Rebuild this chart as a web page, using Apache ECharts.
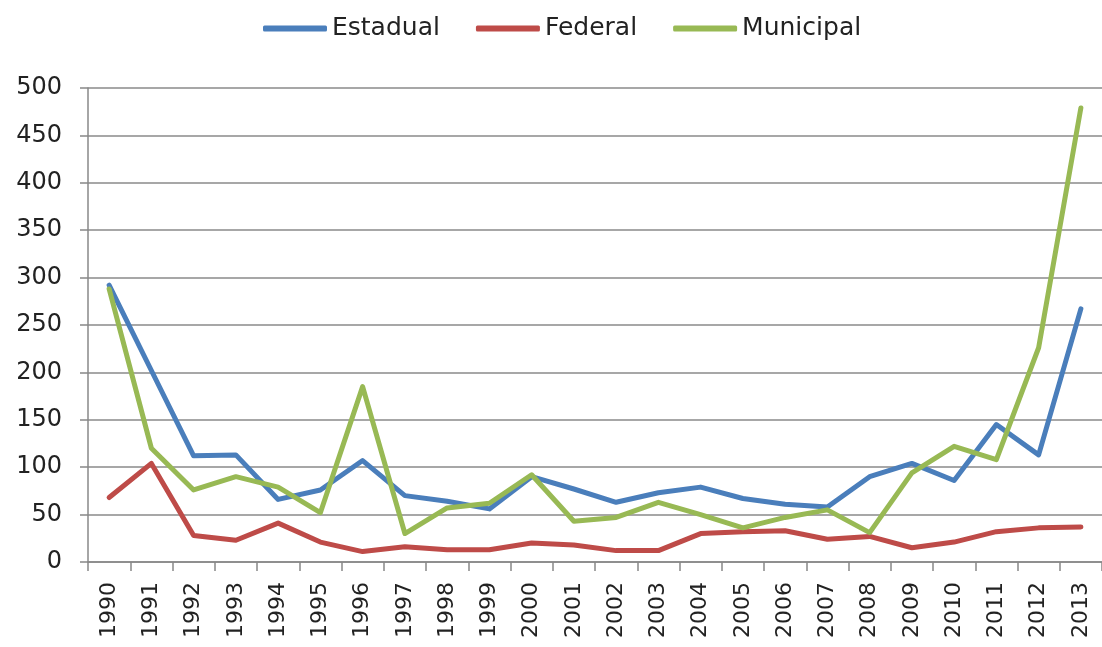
<!DOCTYPE html>
<html>
<head>
<meta charset="utf-8">
<title>Estadual / Federal / Municipal</title>
<script src="https://cdn.jsdelivr.net/npm/echarts@6/dist/echarts.min.js"></script>
<style>
	html, body { margin: 0; padding: 0; background: #fff; }
	#chart { width: 1102px; height: 647px; }
</style>
</head>
<body>
<div id="chart"></div>
<script>
	// anos do eixo x
	var anos = ['1990', '1991', '1992', '1993', '1994', '1995', '1996', '1997', '1998', '1999', '2000', '2001',
		'2002', '2003', '2004', '2005', '2006', '2007', '2008', '2009', '2010', '2011', '2012', '2013'];
	var estadual = [292, 202, 112, 113, 66, 76, 107, 70, 64, 56, 90, 77, 63, 73, 79, 67, 61, 58, 90, 104, 86, 145, 113, 267];
	var federal = [68, 104, 28, 23, 41, 21, 11, 16, 13, 13, 20, 18, 12, 12, 30, 32, 33, 24, 27, 15, 21, 32, 36, 37];
	var municipal = [288, 120, 76, 90, 79, 52, 185, 30, 57, 62, 92, 43, 47, 63, 50, 36, 47, 55, 31, 94, 122, 108, 226, 479];
	var nomes = ['Estadual', 'Federal', 'Municipal'];
	var cores = ['#4a7ebb', '#be4b48', '#98b954'];

	var myChart = echarts.init(document.getElementById('chart'));

	function serie(nome, dados, cor) {
		return {
			name: nome,
			type: 'line',
			data: dados,
			symbol: 'none',
			lineStyle: { width: 5, color: cor, cap: 'round', join: 'round' },
			itemStyle: { color: cor }
		};
	}

	var option = {
		backgroundColor: '#fff',
		animation: false,
		legend: {
			data: nomes,
			left: 258,
			top: 11,
			icon: 'roundRect',
			itemWidth: 64,
			itemHeight: 6,
			itemGap: 36,
			textStyle: { fontFamily: 'DejaVu Sans', fontSize: 25, color: '#222' }
		},
		grid: {
			left: 88,
			right: -6,
			top: 88,
			bottom: 85,
			containLabel: false
		},
		xAxis: {
			type: 'category',
			boundaryGap: true,
			data: anos,
			axisLine: { lineStyle: { color: '#888', width: 1.5 } },
			axisTick: { show: true, length: 9, lineStyle: { color: '#888', width: 1.5 } },
			axisLabel: {
				interval: 0,
				rotate: 90,
				margin: 20,
				fontFamily: 'DejaVu Sans',
				fontSize: 22,
				color: '#222'
			}
		},
		yAxis: {
			type: 'value',
			min: 0,
			max: 500,
			interval: 50,
			axisLine: { show: true, lineStyle: { color: '#888', width: 1.5 } },
			axisTick: { show: true, length: 8, lineStyle: { color: '#888', width: 1.5 } },
			splitLine: { lineStyle: { color: '#8a8a8a', width: 1.5 } },
			axisLabel: {
				margin: 26,
				fontFamily: 'DejaVu Sans',
				fontSize: 24,
				color: '#222'
			}
		},
		series: [
			serie(nomes[0], estadual, cores[0]),
			serie(nomes[1], federal, cores[1]),
			serie(nomes[2], municipal, cores[2])
		]
	};
	myChart.setOption(option);
</script>
</body>
</html>
